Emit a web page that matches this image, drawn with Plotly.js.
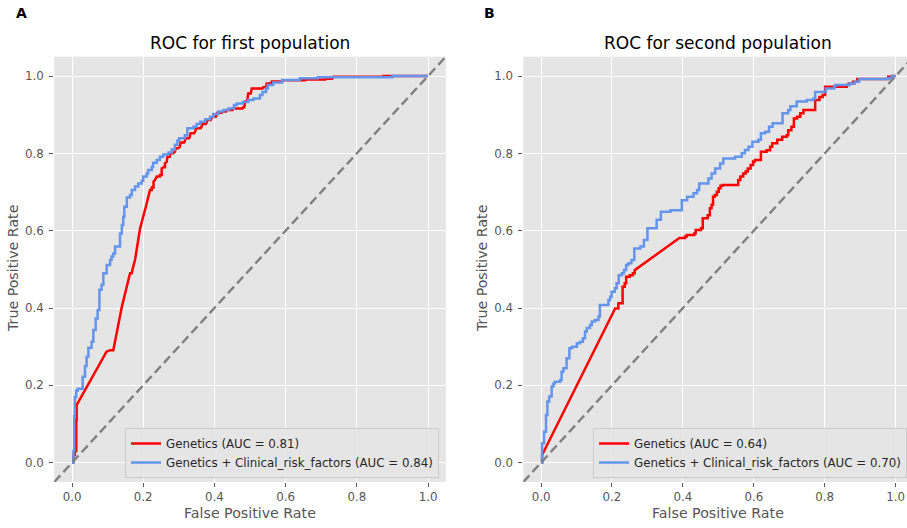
<!DOCTYPE html>
<html>
<head>
<meta charset="utf-8">
<script src="https://cdn.plot.ly/plotly-3.0.1.min.js"></script>
<style>
  html, body { margin: 0; padding: 0; overflow: hidden; background: #ffffff; }
  #chart { width: 914px; height: 528px; }
</style>
</head>
<body>
<div id="chart"></div>
<script>
// ROC curves (false positive rate, true positive rate) for the two populations.

// First population, genetics only (AUC = 0.81)
const fprFirstGen = [0, 0.004, 0.004, 0.008, 0.008, 0.012, 0.012, 0.013, 0.013, 0.097, 0.107, 0.116, 0.140, 0.163, 0.168, 0.170, 0.177, 0.191, 0.210, 0.219, 0.224, 0.224, 0.229, 0.229, 0.233, 0.238, 0.247, 0.247, 0.252, 0.252, 0.257, 0.261, 0.261, 0.266, 0.268, 0.275, 0.275, 0.284, 0.289, 0.291, 0.298, 0.303, 0.305, 0.315, 0.317, 0.319, 0.329, 0.331, 0.333, 0.343, 0.346, 0.348, 0.361, 0.364, 0.366, 0.376, 0.378, 0.380, 0.390, 0.392, 0.396, 0.404, 0.406, 0.408, 0.420, 0.425, 0.433, 0.435, 0.451, 0.453, 0.479, 0.481, 0.484, 0.486, 0.492, 0.495, 0.502, 0.505, 0.535, 0.537, 0.545, 0.547, 0.559, 0.561, 0.590, 0.594, 0.655, 0.659, 0.712, 0.715, 0.731, 0.734, 0.875, 0.875, 1.0];
const tprFirstGen = [0, 0, 0.020, 0.020, 0.030, 0.030, 0.110, 0.110, 0.149, 0.287, 0.291, 0.291, 0.403, 0.490, 0.490, 0.500, 0.524, 0.605, 0.671, 0.705, 0.705, 0.712, 0.712, 0.727, 0.731, 0.740, 0.740, 0.744, 0.744, 0.761, 0.764, 0.764, 0.774, 0.778, 0.791, 0.791, 0.800, 0.800, 0.804, 0.813, 0.813, 0.817, 0.828, 0.828, 0.832, 0.839, 0.839, 0.843, 0.852, 0.852, 0.856, 0.865, 0.865, 0.869, 0.876, 0.876, 0.879, 0.886, 0.886, 0.891, 0.895, 0.895, 0.899, 0.905, 0.905, 0.908, 0.908, 0.912, 0.912, 0.916, 0.916, 0.919, 0.919, 0.934, 0.934, 0.955, 0.955, 0.968, 0.968, 0.971, 0.971, 0.981, 0.981, 0.986, 0.986, 0.989, 0.989, 0.991, 0.991, 0.993, 0.993, 0.998, 0.998, 1.0, 1.0];

// First population, genetics + clinical risk factors (AUC = 0.84)
const fprFirstClin = [0, 0.004, 0.004, 0.006, 0.006, 0.008, 0.008, 0.012, 0.012, 0.016, 0.016, 0.030, 0.030, 0.0365, 0.0365, 0.041, 0.041, 0.046, 0.046, 0.055, 0.055, 0.060, 0.060, 0.0665, 0.0665, 0.072, 0.072, 0.077, 0.077, 0.083, 0.083, 0.088, 0.088, 0.0974, 0.0974, 0.107, 0.107, 0.111, 0.111, 0.116, 0.116, 0.121, 0.121, 0.135, 0.135, 0.140, 0.140, 0.144, 0.144, 0.147, 0.147, 0.154, 0.154, 0.163, 0.163, 0.168, 0.168, 0.177, 0.177, 0.186, 0.186, 0.196, 0.196, 0.200, 0.200, 0.210, 0.210, 0.214, 0.214, 0.224, 0.224, 0.228, 0.228, 0.238, 0.238, 0.247, 0.247, 0.256, 0.256, 0.271, 0.271, 0.280, 0.280, 0.289, 0.289, 0.296, 0.296, 0.301, 0.301, 0.317, 0.317, 0.324, 0.324, 0.341, 0.341, 0.350, 0.350, 0.360, 0.360, 0.374, 0.374, 0.388, 0.388, 0.397, 0.397, 0.411, 0.411, 0.425, 0.425, 0.440, 0.440, 0.455, 0.455, 0.463, 0.463, 0.480, 0.480, 0.495, 0.495, 0.510, 0.510, 0.528, 0.528, 0.535, 0.535, 0.545, 0.545, 0.550, 0.550, 0.565, 0.565, 0.590, 0.590, 0.640, 0.640, 0.690, 0.690, 0.900, 0.900, 1.0];
const tprFirstClin = [0, 0, 0.030, 0.030, 0.120, 0.120, 0.170, 0.170, 0.186, 0.186, 0.191, 0.191, 0.222, 0.222, 0.250, 0.250, 0.274, 0.274, 0.297, 0.297, 0.313, 0.313, 0.343, 0.343, 0.373, 0.373, 0.395, 0.395, 0.447, 0.447, 0.460, 0.460, 0.490, 0.490, 0.511, 0.511, 0.524, 0.524, 0.533, 0.533, 0.541, 0.541, 0.559, 0.559, 0.593, 0.593, 0.615, 0.615, 0.636, 0.636, 0.662, 0.662, 0.686, 0.686, 0.692, 0.692, 0.705, 0.705, 0.714, 0.714, 0.722, 0.722, 0.729, 0.729, 0.740, 0.740, 0.748, 0.748, 0.757, 0.757, 0.765, 0.765, 0.776, 0.776, 0.783, 0.783, 0.791, 0.791, 0.797, 0.797, 0.802, 0.802, 0.810, 0.810, 0.822, 0.822, 0.833, 0.833, 0.839, 0.839, 0.847, 0.847, 0.865, 0.865, 0.869, 0.869, 0.876, 0.876, 0.882, 0.882, 0.888, 0.888, 0.895, 0.895, 0.902, 0.902, 0.908, 0.908, 0.912, 0.912, 0.916, 0.916, 0.925, 0.925, 0.929, 0.929, 0.933, 0.933, 0.938, 0.938, 0.942, 0.942, 0.951, 0.951, 0.959, 0.959, 0.968, 0.968, 0.977, 0.977, 0.983, 0.983, 0.990, 0.990, 0.994, 0.994, 0.997, 0.997, 1.0, 1.0];

// Second population, genetics only (AUC = 0.64)
const fprSecondGen = [0, 0.003, 0.003, 0.209, 0.218, 0.218, 0.230, 0.230, 0.236, 0.236, 0.240, 0.240, 0.250, 0.250, 0.259, 0.259, 0.264, 0.264, 0.390, 0.406, 0.406, 0.411, 0.411, 0.432, 0.432, 0.436, 0.436, 0.451, 0.451, 0.456, 0.456, 0.470, 0.470, 0.476, 0.476, 0.481, 0.481, 0.485, 0.485, 0.490, 0.490, 0.496, 0.496, 0.501, 0.501, 0.506, 0.506, 0.512, 0.512, 0.556, 0.556, 0.562, 0.562, 0.570, 0.570, 0.577, 0.577, 0.583, 0.583, 0.591, 0.591, 0.598, 0.598, 0.603, 0.603, 0.620, 0.620, 0.636, 0.636, 0.646, 0.646, 0.652, 0.652, 0.666, 0.666, 0.680, 0.680, 0.693, 0.693, 0.697, 0.697, 0.706, 0.706, 0.713, 0.713, 0.722, 0.722, 0.731, 0.731, 0.740, 0.740, 0.773, 0.773, 0.785, 0.785, 0.794, 0.794, 0.801, 0.801, 0.862, 0.862, 0.868, 0.868, 0.880, 0.880, 0.892, 0.892, 0.979, 0.979, 0.990, 0.990, 1.0];
const tprSecondGen = [0, 0, 0.020, 0.399, 0.399, 0.412, 0.412, 0.455, 0.455, 0.464, 0.464, 0.481, 0.481, 0.485, 0.485, 0.490, 0.490, 0.498, 0.581, 0.581, 0.585, 0.585, 0.589, 0.589, 0.593, 0.593, 0.602, 0.602, 0.606, 0.606, 0.632, 0.632, 0.640, 0.640, 0.658, 0.658, 0.667, 0.667, 0.688, 0.688, 0.692, 0.692, 0.701, 0.701, 0.710, 0.710, 0.716, 0.716, 0.718, 0.718, 0.731, 0.731, 0.740, 0.740, 0.748, 0.748, 0.753, 0.753, 0.761, 0.761, 0.770, 0.770, 0.779, 0.779, 0.783, 0.783, 0.804, 0.804, 0.808, 0.808, 0.817, 0.817, 0.826, 0.826, 0.835, 0.835, 0.843, 0.843, 0.847, 0.847, 0.860, 0.860, 0.869, 0.869, 0.890, 0.890, 0.895, 0.895, 0.904, 0.904, 0.912, 0.912, 0.938, 0.938, 0.946, 0.946, 0.951, 0.951, 0.972, 0.972, 0.977, 0.977, 0.981, 0.981, 0.985, 0.985, 0.992, 0.992, 0.998, 0.998, 1.0, 1.0];

// Second population, genetics + clinical risk factors (AUC = 0.70)
const fprSecondClin = [0, 0.003, 0.003, 0.0085, 0.0085, 0.014, 0.014, 0.018, 0.018, 0.023, 0.023, 0.030, 0.030, 0.035, 0.035, 0.039, 0.039, 0.054, 0.054, 0.058, 0.058, 0.063, 0.063, 0.072, 0.072, 0.080, 0.080, 0.087, 0.087, 0.101, 0.101, 0.110, 0.110, 0.118, 0.118, 0.124, 0.124, 0.129, 0.129, 0.138, 0.138, 0.143, 0.143, 0.152, 0.152, 0.162, 0.162, 0.166, 0.166, 0.190, 0.190, 0.195, 0.195, 0.199, 0.199, 0.208, 0.208, 0.213, 0.213, 0.219, 0.219, 0.228, 0.228, 0.234, 0.234, 0.240, 0.240, 0.246, 0.246, 0.255, 0.255, 0.263, 0.263, 0.280, 0.280, 0.290, 0.290, 0.300, 0.300, 0.326, 0.326, 0.338, 0.338, 0.365, 0.365, 0.397, 0.397, 0.412, 0.412, 0.430, 0.430, 0.440, 0.440, 0.446, 0.446, 0.472, 0.472, 0.481, 0.481, 0.491, 0.491, 0.505, 0.505, 0.514, 0.514, 0.547, 0.547, 0.566, 0.566, 0.575, 0.575, 0.585, 0.585, 0.596, 0.596, 0.613, 0.613, 0.620, 0.620, 0.632, 0.632, 0.643, 0.643, 0.653, 0.653, 0.681, 0.681, 0.697, 0.697, 0.703, 0.703, 0.721, 0.721, 0.749, 0.749, 0.768, 0.768, 0.773, 0.773, 0.803, 0.803, 0.827, 0.827, 0.830, 0.830, 0.870, 0.870, 0.885, 0.885, 0.897, 0.897, 0.977, 0.977, 0.989, 0.989, 1.0];
const tprSecondClin = [0, 0, 0.050, 0.050, 0.080, 0.080, 0.123, 0.123, 0.158, 0.158, 0.171, 0.171, 0.197, 0.197, 0.205, 0.205, 0.209, 0.209, 0.214, 0.214, 0.235, 0.235, 0.244, 0.244, 0.270, 0.270, 0.296, 0.296, 0.300, 0.300, 0.309, 0.309, 0.313, 0.313, 0.322, 0.322, 0.339, 0.339, 0.348, 0.348, 0.356, 0.356, 0.365, 0.365, 0.369, 0.369, 0.378, 0.378, 0.408, 0.408, 0.421, 0.421, 0.429, 0.429, 0.442, 0.442, 0.451, 0.451, 0.464, 0.464, 0.485, 0.485, 0.490, 0.490, 0.498, 0.498, 0.511, 0.511, 0.516, 0.516, 0.524, 0.524, 0.554, 0.554, 0.559, 0.559, 0.576, 0.576, 0.606, 0.606, 0.628, 0.628, 0.649, 0.649, 0.653, 0.653, 0.679, 0.679, 0.688, 0.688, 0.697, 0.697, 0.705, 0.705, 0.722, 0.722, 0.735, 0.735, 0.748, 0.748, 0.761, 0.761, 0.774, 0.774, 0.787, 0.787, 0.791, 0.791, 0.800, 0.800, 0.809, 0.809, 0.817, 0.817, 0.830, 0.830, 0.835, 0.835, 0.852, 0.852, 0.856, 0.856, 0.869, 0.869, 0.878, 0.878, 0.904, 0.904, 0.912, 0.912, 0.922, 0.922, 0.934, 0.934, 0.938, 0.938, 0.942, 0.942, 0.959, 0.959, 0.968, 0.968, 0.974, 0.974, 0.977, 0.977, 0.981, 0.981, 0.985, 0.985, 0.992, 0.992, 0.994, 0.994, 1.0, 1.0];

// Text
const panelTitles = ['ROC for first population', 'ROC for second population'];
const panelLetters = ['A', 'B'];
const seriesNames = [
  ['Genetics (AUC = 0.81)', 'Genetics + Clinical_risk_factors (AUC = 0.84)'],
  ['Genetics (AUC = 0.64)', 'Genetics + Clinical_risk_factors (AUC = 0.70)']
];
const xLabel = 'False Positive Rate';
const yLabel = 'True Positive Rate';
const tickValues = [0, 0.2, 0.4, 0.6, 0.8, 1.0];
const tickLabels = ['0.0', '0.2', '0.4', '0.6', '0.8', '1.0'];

const W = 914, H = 528;
const px = v => v / W;
const py = v => 1 - v / H;

const FONT = 'DejaVu Sans, sans-serif';
const RED = '#ff0000';
const BLUE = '#6495ed';
const LW = 2.5;

function curve(x, y, name, color, xa, ya, legend) {
  return {
    type: 'scatter', mode: 'lines', x: x, y: y, name: name,
    xaxis: xa, yaxis: ya, legend: legend,
    line: { color: color, width: LW, shape: 'linear' },
    hoverinfo: 'skip'
  };
}
// dashed chance diagonal spanning the whole axis range
function chance(xa, ya) {
  return {
    type: 'scatter', mode: 'lines', x: [-0.05, 1.05], y: [-0.05, 1.05],
    xaxis: xa, yaxis: ya, showlegend: false, hoverinfo: 'skip',
    line: { color: '#808080', width: 2.4, dash: '9px,4.5px' }
  };
}

const data = [
  curve(fprFirstGen, tprFirstGen, seriesNames[0][0], RED, 'x', 'y', 'legend'),
  curve(fprFirstClin, tprFirstClin, seriesNames[0][1], BLUE, 'x', 'y', 'legend'),
  chance('x', 'y'),
  curve(fprSecondGen, tprSecondGen, seriesNames[1][0], RED, 'x2', 'y2', 'legend2'),
  curve(fprSecondClin, tprSecondClin, seriesNames[1][1], BLUE, 'x2', 'y2', 'legend2'),
  chance('x2', 'y2')
];

function xAxis(domain) {
  return {
    domain: domain, range: [-0.05, 1.05], autorange: false,
    tickvals: tickValues, ticktext: tickLabels,
    ticks: 'outside', ticklen: 4, tickwidth: 1, tickcolor: '#555555',
    tickfont: { family: FONT, size: 11.8, color: '#555555' },
    showgrid: true, gridcolor: '#ffffff', gridwidth: 1,
    zeroline: false, showline: false, automargin: false, fixedrange: true
  };
}
function yAxis(domain, anchor) {
  const a = xAxis(domain);
  a.anchor = anchor;
  a.ticklabelstandoff = 3;
  return a;
}

const legendStyle = {
  bgcolor: 'rgba(229,229,229,0.85)', bordercolor: '#cccccc', borderwidth: 1,
  font: { family: FONT, size: 11.8, color: '#262626' },
  xanchor: 'right', yanchor: 'bottom', itemwidth: 30, tracegroupgap: 0,
  itemclick: false, itemdoubleclick: false
};

const yDom = [1 - 482 / H, 1 - 56.7 / H];

const annotations = [];
function addText(text, x, y, size, color, extra) {
  annotations.push(Object.assign({
    text: text, x: px(x), y: py(y), xref: 'paper', yref: 'paper',
    showarrow: false, xanchor: 'center', yanchor: 'middle',
    font: { family: FONT, size: size, color: color }
  }, extra || {}));
}
addText('<b>' + panelLetters[0] + '</b>', 21, 13, 14, '#000000');
addText('<b>' + panelLetters[1] + '</b>', 489, 13, 14, '#000000');
addText(panelTitles[0], 250, 43, 17, '#000000');
addText(panelTitles[1], 718, 43, 17, '#000000');
addText(xLabel, 250, 513, 14.2, '#555555');
addText(xLabel, 718, 513, 14.2, '#555555');
addText(yLabel, 13, 269, 14.2, '#555555', { textangle: -90 });
addText(yLabel, 482, 269, 14.2, '#555555', { textangle: -90 });

const layout = {
  width: W, height: H,
  margin: { l: 0, r: 0, t: 0, b: 0, pad: 0 },
  paper_bgcolor: '#ffffff', plot_bgcolor: '#e5e5e5',
  font: { family: FONT },
  xaxis: Object.assign(xAxis([px(54.2), px(445.8)]), { anchor: 'y' }),
  yaxis: yAxis(yDom, 'x'),
  xaxis2: Object.assign(xAxis([px(523.3), px(913.4)]), { anchor: 'y2' }),
  yaxis2: yAxis(yDom, 'x2'),
  legend: Object.assign({ x: px(439), y: py(478) }, legendStyle),
  legend2: Object.assign({ x: px(907), y: py(478) }, legendStyle),
  annotations: annotations,
  showlegend: true
};

Plotly.newPlot('chart', data, layout, { displayModeBar: false, staticPlot: true });
</script>
</body>
</html>
